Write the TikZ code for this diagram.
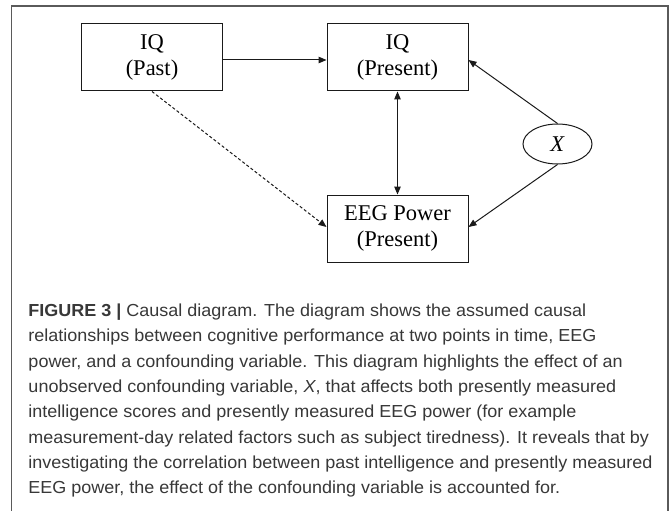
\documentclass[tikz,border=0pt]{standalone}
\usepackage{fontspec}
\setmainfont{Liberation Serif}
\newfontfamily\capfont{Liberation Sans}
\usetikzlibrary{arrows.meta,shapes.geometric}
\definecolor{capcol}{HTML}{383838}
\definecolor{framecol}{HTML}{5A5A5A}
\definecolor{boxcol}{HTML}{1A1A1A}
\newlength\capw
\newcommand\capsize{\fontsize{17.4}{20}\selectfont}
\newcommand\capline[1]{\scalebox{\capsx}[1]{\capfont\capsize #1}}
\AtBeginDocument{%
  \settowidth\capw{\capfont\capsize investigating the correlation between past intelligence and presently measured}%
  \pgfmathsetmacro\capsx{624/\capw}}
\begin{document}
\begin{tikzpicture}[x=1pt,y=-1pt,
  box/.style={draw=boxcol, line width=1pt, minimum width=141pt, minimum height=67pt,
    inner sep=0pt, align=center, font=\fontsize{22.5}{26}\selectfont},
  oval/.style={draw=boxcol, ellipse, line width=1pt, minimum width=69pt, minimum height=40pt,
    inner sep=0pt, font=\fontsize{22.5}{26}\selectfont},
  ar/.style={draw=boxcol, line width=1pt, -{Triangle[length=8pt,width=6.5pt]}},
  dar/.style={draw=boxcol, line width=1pt, {Triangle[length=8pt,width=6.5pt]}-{Triangle[length=8pt,width=6.5pt]}},
  dashar/.style={ar, dash pattern=on 3pt off 2.2pt},
  capt/.style={anchor=base west, inner sep=0pt, text=capcol}]
\useasboundingbox (0,0) rectangle (670,511);
\fill[white] (0,0) rectangle (670,511);
% frame
\draw[framecol, line width=1.3pt] (11.5,515) -- (11.5,6) -- (668,6) -- (668,515);
% nodes
\node[box] (past) at (152,57.5) {IQ\\(Past)};
\node[box] (pres) at (397.5,57.5) {IQ\\(Present)};
\node[box] (eeg) at (397.5,228.5) {EEG Power\\(Present)};
\node[oval] (x) at (557.5,144) {\textit{X}};
% connectors
\draw[ar] ([yshift=-2.5pt]past.east) -- ([yshift=-2.5pt]pres.west);
\draw[dar] (pres.south) -- (eeg.north);
\draw[ar] (x.north) -- ([yshift=-2.5pt]pres.east);
\draw[ar] (x.south) -- ([yshift=1.5pt]eeg.east);
\draw[dashar] (past.south) -- ([yshift=1.5pt]eeg.west);
% caption
\node[capt] (c1) at (28.3,316.5) {\capline{\textbf{FIGURE 3 |} Causal diagram. The diagram shows the assumed causal}};
\node[capt] (c2) at (28.3,341.8) {\capline{relationships between cognitive performance at two points in time, EEG}};
\node[capt] (c3) at (28.3,367.1) {\capline{power, and a confounding variable. This diagram highlights the effect of an}};
\node[capt] (c4) at (28.3,392.4) {\capline{unobserved confounding variable, \textit{X}, that affects both presently measured}};
\node[capt] (c5) at (28.3,417.7) {\capline{intelligence scores and presently measured EEG power (for example}};
\node[capt] (c6) at (28.3,443.0) {\capline{measurement-day related factors such as subject tiredness). It reveals that by}};
\node[capt] (c7) at (28.3,468.3) {\capline{investigating the correlation between past intelligence and presently measured}};
\node[capt] (c8) at (28.3,493.6) {\capline{EEG power, the effect of the confounding variable is accounted for.}};
\end{tikzpicture}
\end{document}
